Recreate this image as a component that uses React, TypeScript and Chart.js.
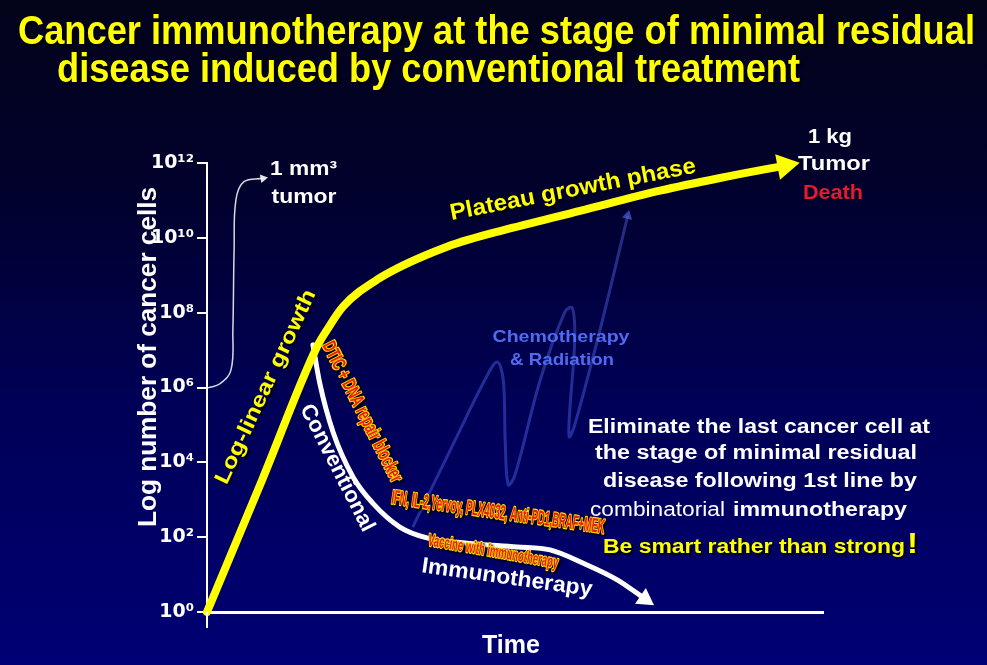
import React, { useEffect, useRef } from 'react';
import { Chart, registerables } from 'chart.js';

Chart.register(...registerables);

// ---- Data (time in arbitrary units 0-100, cell counts as log10 exponents) ----
const yTickExponents = [0, 2, 4, 6, 8, 10, 12];

// Yellow: log-linear growth then plateau growth phase
const growthTime = [0, 9, 17.86, 19.48, 22.08, 27.6, 38.96, 49.68, 60.55, 73.54, 83.28, 93.83];
const growthLog = [0, 3.55, 7.09, 7.54, 8.16, 8.88, 9.76, 10.27, 10.72, 11.26, 11.6, 11.93];

// White: conventional + immunotherapy decline
const conventionalTime = [17.2, 18.3, 20.5, 23.7, 26.9, 31.3, 35.7, 42.2, 50.3, 55.7, 61.0, 66.6, 71.1];
const conventionalLog = [7.14, 6.12, 4.79, 3.61, 2.91, 2.27, 1.98, 1.84, 1.74, 1.66, 1.31, 0.86, 0.35];

// Blue: chemotherapy & radiation relapse oscillation
const chemoTime = [33.4, 40.3, 45.1, 47.1, 48.1, 48.4, 48.9, 50.0, 54.1, 58.1, 59.3, 59.7, 58.9, 58.8, 59.7, 63.8, 68.3];
const chemoLog = [2.27, 4.6, 6.2, 6.68, 6.2, 4.6, 3.4, 3.66, 6.2, 8.02, 8.13, 7.27, 5.4, 4.68, 5.0, 7.54, 10.59];

// Thin white bracket: 10^6 cells -> 1 mm3 tumor
const bracketTime = [0.16, 2.1, 3.9, 4.2, 4.4, 4.7, 6.0, 9.1];
const bracketLog = [5.99, 6.1, 6.47, 7.54, 9.68, 11.02, 11.5, 11.59];

const SUP: Record<string, string> = { '0': '⁰', '1': '¹', '2': '²', '3': '³', '4': '⁴', '5': '⁵', '6': '⁶', '7': '⁷', '8': '⁸', '9': '⁹' };
const sup = (n: number) => String(n).split('').map((c) => SUP[c] || c).join('');

const toPoints = (t: number[], l: number[]) => t.map((x, i) => ({ x, y: Math.pow(10, l[i]) }));

const arrowRadii = (n: number, r: number) => Array.from({ length: n }, (_, i) => (i === n - 1 ? r : 0));

const rot = (ctx: any) => {
  const data = ctx.chart.data.datasets[ctx.datasetIndex].data as { x: number; y: number }[];
  const n = data.length;
  const xs = ctx.chart.scales.x;
  const ys = ctx.chart.scales.y;
  if (!xs || !ys || n < 2) return 0;
  const a = data[n - 2];
  const b = data[n - 1];
  const dx = xs.getPixelForValue(b.x) - xs.getPixelForValue(a.x);
  const dy = ys.getPixelForValue(b.y) - ys.getPixelForValue(a.y);
  return (Math.atan2(dy, dx) * 180) / Math.PI + 90;
};

const SANS = '"Liberation Sans", Arial, Helvetica, sans-serif';
const NARROW = '"Liberation Sans Narrow", "Arial Narrow", "Liberation Sans", Arial, sans-serif';

type TOpts = {
  font: string;
  color: string;
  angle?: number;
  align?: CanvasTextAlign;
  baseline?: CanvasTextBaseline;
  width?: number;
  shadow?: string;
  stroke?: string;
  strokeWidth?: number;
};

function drawText(ctx: CanvasRenderingContext2D, text: string, x: number, y: number, o: TOpts) {
  ctx.save();
  ctx.translate(x, y);
  if (o.angle) ctx.rotate((o.angle * Math.PI) / 180);
  ctx.font = o.font;
  ctx.textAlign = o.align ?? 'center';
  ctx.textBaseline = o.baseline ?? 'alphabetic';
  if (o.width) {
    const w = ctx.measureText(text).width;
    if (w > 0) ctx.scale(o.width / w, 1);
  }
  if (o.shadow) {
    ctx.shadowColor = o.shadow;
    ctx.shadowOffsetX = 2;
    ctx.shadowOffsetY = 2;
    ctx.shadowBlur = 2;
  }
  if (o.stroke) {
    ctx.strokeStyle = o.stroke;
    ctx.lineWidth = o.strokeWidth ?? 2;
    ctx.lineJoin = 'round';
    ctx.strokeText(text, 0, 0);
    ctx.shadowColor = 'transparent';
  }
  ctx.fillStyle = o.color;
  ctx.fillText(text, 0, 0);
  ctx.restore();
}

const backgroundPlugin = {
  id: 'bg',
  beforeDraw(chart: any) {
    const { ctx, width, height } = chart;
    const g = ctx.createLinearGradient(0, 0, 0, height);
    g.addColorStop(0, '#03031a');
    g.addColorStop(0.3, '#01012e');
    g.addColorStop(0.6, '#000056');
    g.addColorStop(1, '#000074');
    ctx.save();
    ctx.fillStyle = g;
    ctx.fillRect(0, 0, width, height);
    ctx.restore();
  },
};

const annotationPlugin = {
  id: 'annotations',
  afterDraw(chart: any) {
    const ctx: CanvasRenderingContext2D = chart.ctx;
    const area = chart.chartArea;
    // y-axis overhang below x-axis
    ctx.save();
    ctx.strokeStyle = '#ffffff';
    ctx.lineWidth = 2;
    ctx.beginPath();
    ctx.moveTo(area.left, area.bottom);
    ctx.lineTo(area.left, area.bottom + 16);
    ctx.stroke();
    ctx.restore();

    const Y = '#ffff00';
    const W = '#ffffff';
    const SH = 'rgba(0,0,0,0.85)';

    // Title
    drawText(ctx, 'Cancer immunotherapy at the stage of minimal residual', 18, 44, { font: `bold 40px ${NARROW}`, color: Y, align: 'left', width: 957, shadow: SH });
    drawText(ctx, 'disease induced by conventional treatment', 57, 82, { font: `bold 40px ${NARROW}`, color: Y, align: 'left', width: 743, shadow: SH });

    // Axis titles
    drawText(ctx, 'Log number of cancer cells', 156, 357, { font: `bold 26px ${SANS}`, color: W, angle: -90, width: 340 });
    drawText(ctx, 'Time', 511, 653, { font: `bold 25px ${SANS}`, color: W, width: 58 });

    // 1 mm3 tumor
    drawText(ctx, '1 mm³', 270, 175, { font: `bold 21px ${SANS}`, color: W, align: 'left', width: 67 });
    drawText(ctx, 'tumor', 304, 203, { font: `bold 21px ${SANS}`, color: W, width: 65 });

    // 1 kg Tumor Death
    drawText(ctx, '1 kg', 830, 143, { font: `bold 21px ${SANS}`, color: W, width: 44 });
    drawText(ctx, 'Tumor', 834, 170, { font: `bold 21px ${SANS}`, color: W, width: 72 });
    drawText(ctx, 'Death', 833, 199, { font: `bold 21px ${SANS}`, color: '#e8192c', width: 60 });

    // Curve labels
    drawText(ctx, 'Log-linear growth', 266, 387, { font: `bold 21px ${SANS}`, color: Y, angle: -65, baseline: 'middle', width: 212, shadow: SH });
    drawText(ctx, 'Plateau growth phase', 573, 190, { font: `bold 23px ${SANS}`, color: Y, angle: -11, baseline: 'middle', width: 250, shadow: SH });
    drawText(ctx, 'Conventional', 337, 468, { font: `bold 22px ${SANS}`, color: W, angle: 63, baseline: 'middle', width: 140 });
    drawText(ctx, 'Immunotherapy', 507, 578, { font: `bold 22px ${SANS}`, color: W, angle: 8, baseline: 'middle', width: 172 });

    const red = '#ee1a10';
    const ylw = '#ffdd00';
    drawText(ctx, 'DTIC + DNA repair blocker', 362, 412, { font: `bold 19px ${NARROW}`, color: red, angle: 63, baseline: 'middle', width: 155, stroke: ylw, strokeWidth: 2.5, shadow: SH });
    drawText(ctx, 'IFN, IL-2,Yervoy, PLX4032, Anti-PD1,BRAF+MEK', 498, 513, { font: `bold 20px ${NARROW}`, color: red, angle: 8, baseline: 'middle', width: 215, stroke: ylw, strokeWidth: 2.5, shadow: SH });
    drawText(ctx, 'Vaccine with immunotherapy', 493, 552, { font: `bold 17px ${NARROW}`, color: red, angle: 10, baseline: 'middle', width: 132, stroke: ylw, strokeWidth: 2.5, shadow: SH });

    // Chemotherapy & Radiation
    drawText(ctx, 'Chemotherapy', 561, 342, { font: `bold 17px ${SANS}`, color: '#4f6bf0', width: 137 });
    drawText(ctx, '& Radiation', 562, 365, { font: `bold 17px ${SANS}`, color: '#4f6bf0', width: 104 });

    // Message block
    const bf = `bold 20px ${SANS}`;
    drawText(ctx, 'Eliminate the last cancer cell at', 759, 433, { font: bf, color: W, width: 342 });
    drawText(ctx, 'the stage of minimal residual', 756, 459, { font: bf, color: W, width: 322 });
    drawText(ctx, 'disease following 1st line by', 760, 487, { font: bf, color: W, width: 314 });
    drawText(ctx, 'combinatorial', 590, 516, { font: `20px ${SANS}`, color: W, align: 'left', width: 135 });
    drawText(ctx, 'immunotherapy', 733, 516, { font: bf, color: W, align: 'left', width: 174 });
    drawText(ctx, 'Be smart rather than strong', 603, 553, { font: bf, color: Y, align: 'left', width: 302, shadow: SH });
    drawText(ctx, '!', 907, 553, { font: `bold 30px ${SANS}`, color: Y, align: 'left', width: 11, shadow: SH });
  },
};

export default function App() {
  const canvasRef = useRef<HTMLCanvasElement | null>(null);

  useEffect(() => {
    const canvas = canvasRef.current;
    if (!canvas) return;

    const growth = toPoints(growthTime, growthLog);
    const conventional = toPoints(conventionalTime, conventionalLog);
    const chemo = toPoints(chemoTime, chemoLog);
    const bracket = toPoints(bracketTime, bracketLog);

    const chart = new Chart(canvas, {
      type: 'line',
      data: {
        datasets: [
          {
            label: 'Tumor growth',
            data: growth,
            borderColor: '#ffff00',
            backgroundColor: '#ffff00',
            borderWidth: 8,
            borderCapStyle: 'round',
            cubicInterpolationMode: 'monotone',
            pointStyle: 'triangle',
            pointRadius: arrowRadii(growth.length, 15),
            pointHoverRadius: 0,
            pointBorderWidth: 0,
            pointBackgroundColor: '#ffff00',
            pointRotation: rot,
            clip: false,
            order: 1,
          } as any,
          {
            label: 'Conventional + Immunotherapy',
            data: conventional,
            borderColor: '#ffffff',
            backgroundColor: '#ffffff',
            borderWidth: 5,
            borderCapStyle: 'round',
            cubicInterpolationMode: 'monotone',
            pointStyle: 'triangle',
            pointRadius: arrowRadii(conventional.length, 11),
            pointHoverRadius: 0,
            pointBorderWidth: 0,
            pointBackgroundColor: '#ffffff',
            pointRotation: rot,
            clip: false,
            order: 2,
          } as any,
          {
            label: 'Chemotherapy & Radiation',
            data: chemo,
            borderColor: 'rgba(80,100,230,0.45)',
            backgroundColor: 'rgba(80,100,230,0.45)',
            borderWidth: 3,
            tension: 0.35,
            pointStyle: 'triangle',
            pointRadius: arrowRadii(chemo.length, 6),
            pointHoverRadius: 0,
            pointBorderWidth: 0,
            pointBackgroundColor: 'rgba(80,100,230,0.65)',
            pointRotation: rot,
            clip: false,
            order: 4,
          } as any,
          {
            label: '1 mm3 tumor',
            data: bracket,
            borderColor: 'rgba(255,255,255,0.85)',
            backgroundColor: 'rgba(255,255,255,0.85)',
            borderWidth: 1.5,
            tension: 0.4,
            pointStyle: 'triangle',
            pointRadius: arrowRadii(bracket.length, 5),
            pointHoverRadius: 0,
            pointBorderWidth: 0,
            pointBackgroundColor: 'rgba(255,255,255,0.9)',
            pointRotation: rot,
            clip: false,
            order: 3,
          } as any,
        ],
      },
      options: {
        responsive: false,
        animation: false,
        devicePixelRatio: 1,
        events: [],
        layout: { padding: { top: 163, right: 164, bottom: 53, left: 0 } },
        plugins: {
          legend: { display: false },
          tooltip: { enabled: false },
          title: { display: false },
        },
        scales: {
          x: {
            type: 'linear',
            min: 0,
            max: 100,
            ticks: { display: false },
            grid: { display: false, drawTicks: false },
            border: { display: true, color: '#ffffff', width: 3 },
            afterFit: (s: any) => {
              s.height = 0;
            },
          },
          y: {
            type: 'logarithmic',
            min: 1,
            max: 1e12,
            afterBuildTicks: (s: any) => {
              s.ticks = yTickExponents.map((k) => ({ value: Math.pow(10, k) }));
            },
            afterFit: (s: any) => {
              s.width = 207;
            },
            ticks: {
              autoSkip: false,
              color: '#ffffff',
              padding: 3,
              font: { family: '"DejaVu Sans", sans-serif', weight: 'bold', size: 19 },
              callback: (v: any) => '10' + sup(Math.round(Math.log10(Number(v)))),
            },
            grid: {
              display: true,
              drawOnChartArea: false,
              drawTicks: true,
              tickLength: 10,
              color: '#ffffff',
              lineWidth: 2,
            },
            border: { display: true, color: '#ffffff', width: 2 },
          },
        },
      } as any,
      plugins: [backgroundPlugin, annotationPlugin],
    });

    return () => {
      chart.destroy();
    };
  }, []);

  return (
    <div style={{ position: 'absolute', left: 0, top: 0, width: 987, height: 665 }}>
      <canvas ref={canvasRef} width={987} height={665} style={{ display: 'block' }} />
    </div>
  );
}
